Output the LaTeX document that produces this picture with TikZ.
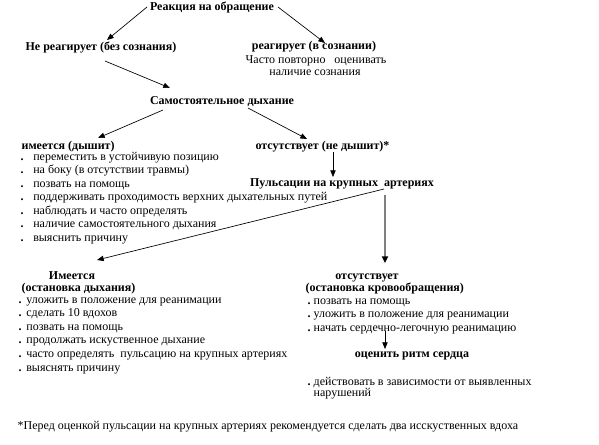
\documentclass[tikz,border=0pt]{standalone}
\usepackage{fontspec}
\setmainfont{Liberation Serif}
\usetikzlibrary{arrows.meta,calc}
\definecolor{linegray}{RGB}{128,128,128}
\newcommand\bltw[1]{\makebox[#1][l]{\textbf{.}}}
\begin{document}
\begin{tikzpicture}[x=0.75pt,y=-0.75pt,
  every node/.style={inner sep=1pt, font=\fontsize{9}{10}\selectfont},
  hd/.style={font=\fontsize{9}{10}\selectfont\bfseries, anchor=base},
  hdl/.style={font=\fontsize{9}{10}\selectfont\bfseries, anchor=base west},
  txc/.style={anchor=base},
  item/.style={anchor=base west},
  arr/.style={draw=black, line width=0.5pt, -{Triangle[length=5pt,width=4pt]}},
  garr/.style={draw=linegray, line width=1.4pt, -{Triangle[length=5pt,width=4.5pt,color=black]}}]
\useasboundingbox (0,0) rectangle (599,444);
\fill[white] (0,0) rectangle (599,444);

% headings
\node[hd] (reak) at (212,10) {Реакция на обращение};
\node[hd] (ner) at (101,50) {Не реагирует (без сознания)};
\node[hd] (reag) at (314,49) {реагирует (в сознании)};
\node[txc] (reag2) at (316,63) {Часто повторно \ \ оценивать};
\node[txc] (reag3) at (315,75) {наличие сознания};
\node[hd] (sam) at (222,104) {Самостоятельное дыхание};
\node[hdl] (im) at (20,149) {имеется (дышит)};
\node[hdl] (ots) at (254,149) {отсутствует (не дышит)*};
\node[hd] (puls) at (342,186) {Пульсации на крупных \ артериях};
\node[hd] (imm) at (72,279) {Имеется};
\node[hdl] (imm2) at (20,291) {(остановка дыхания)};
\node[hd] (ots2) at (367,279) {отсутствует};
\node[hdl] (ots3) at (304,291) {(остановка кровообращения)};
\node[hd] (ocen) at (412,357) {оценить ритм сердца};

% list 1
\foreach \t [count=\i] in {переместить в устойчивую позицию,
  на боку (в отсутствии травмы),
  позвать на помощь,
  поддерживать проходимость верхних дыхательных путей,
  наблюдать и часто определять,
  наличие самостоятельного дыхания,
  выяснить причину}
  \node[item] (la\i) at (19,{160+13.5*(\i-1)}) {\bltw{9.5pt}\t};

% list 2
\foreach \t [count=\i] in {уложить в положение для реанимации,
  сделать 10 вдохов,
  позвать на помощь,
  продолжать искуственное дыхание,
  часто определять \ пульсацию на крупных артериях,
  выяснять причину}
  \node[item] (lb\i) at (17,{303+13.6*(\i-1)}) {\bltw{5.8pt}\t};

% list 3
\foreach \t [count=\i] in {позвать на помощь,
  уложить в положение для реанимации,
  начать сердечно-легочную реанимацию}
  \node[item] (lc\i) at (306,{304+13.5*(\i-1)}) {\bltw{4.6pt}\t};

% list 4
\node[item] (ld1) at (306,385) {\bltw{4.6pt}действовать в зависимости от выявленных};
\node[item] (ld2) at (306,396) {\hphantom{\bltw{4.6pt}}нарушений};

% footnote
\node[item] (foot) at (16,429) {*Перед оценкой пульсации на крупных артериях рекомендуется сделать два исскуственных вдоха};

% connectors
\draw[arr] ($(reak.base)+(-65,-3)$) -- ($(ner.base)+(6,-10)$);
\draw[arr] ($(reak.base)+(66,-3)$) -- ($(reag.base)+(11,-6)$);
\draw[arr] ($(ner.base)+(4,11)$) -- ($(sam.base)+(-52,-16)$);
\draw[arr] ($(sam.base)+(-59,6)$) -- ($(im.base west)+(78,-11)$);
\draw[arr] ($(sam.base)+(26,4)$) -- ($(ots.base west)+(53,-10)$);
\draw[arr] ($(ots.base west)+(79,3)$) -- ($(puls.base)+(-9,-9)$);
\draw[arr] ($(puls.base)+(42,3)$) -- ($(imm.base)+(25,-19)$);
\draw[garr] ($(puls.base)+(43,9)$) -- ($(ots2.base)+(18,-16)$);
\draw[arr] ($(lc3.base west)+(79,0)$) -- ($(ocen.base)+(-27,-8)$);
\end{tikzpicture}
\end{document}
